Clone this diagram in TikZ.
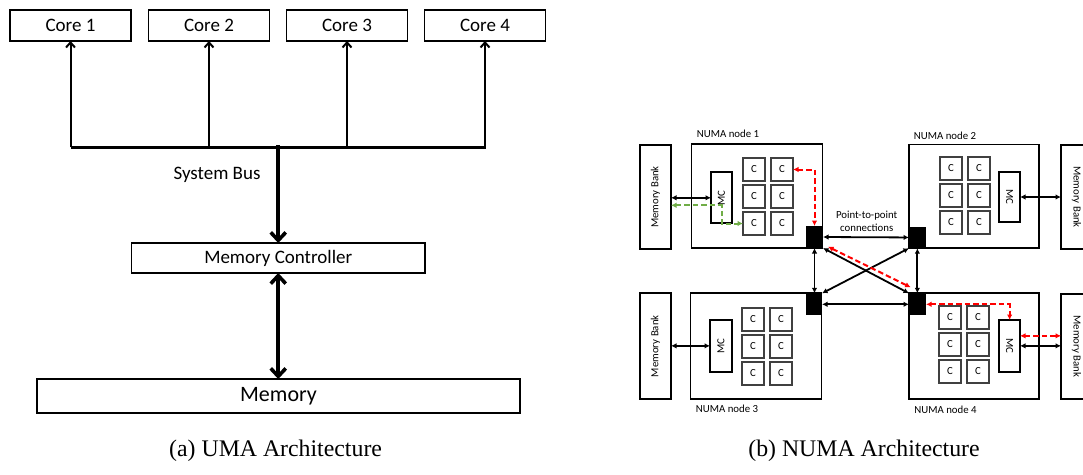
\documentclass[tikz,border=0pt]{standalone}
\usepackage{fontspec}
\setmainfont{Liberation Serif}
\newfontfamily\calib{Carlito}
\usetikzlibrary{arrows.meta,calc}
\definecolor{mygreen}{RGB}{112,173,71}
\begin{document}
\begin{tikzpicture}[x=1pt,y=-1pt,
  ubox/.style={draw, line width=1.8pt, inner sep=0pt, outer sep=0pt, anchor=north west, font=\calib\fontsize{19}{22}\selectfont},
  uthin/.style={line width=2pt, -{Straight Barb[length=5pt,width=9pt]}},
  uthick/.style={line width=3.6pt, -{Straight Barb[length=8pt,width=15pt]}},
  uthickb/.style={line width=3.6pt, {Straight Barb[length=8pt,width=15pt]}-{Straight Barb[length=8pt,width=15pt]}},
  nbox/.style={draw, line width=1.9pt, inner sep=0pt, outer sep=0pt, anchor=north west, font=\calib\fontsize{10.8}{13}\selectfont},
  cbox/.style={draw=black!75, line width=1.4pt, inner sep=0pt, outer sep=0pt, anchor=north west, minimum width=22pt, minimum height=23pt, font=\calib\fontsize{10.8}{13}\selectfont},
  router/.style={fill=black, inner sep=0pt, outer sep=0pt, anchor=north west},
  small/.style={font=\calib\fontsize{10.8}{12.7}\selectfont, inner sep=0pt},
  narr/.style={line width=1.8pt, {Latex[length=5.5pt,width=5.5pt]}-{Latex[length=5.5pt,width=5.5pt]}},
  reddash/.style={narr, draw=red, line width=2pt, dash pattern=on 5.5pt off 3pt},
  greendash/.style={narr, draw=mygreen, line width=2pt, dash pattern=on 5.5pt off 3pt},
  caption/.style={font=\fontsize{23.8}{28}\selectfont, inner sep=0pt}
]
\useasboundingbox (0,0) rectangle (1083,474);
\clip (0,0) rectangle (1083,474);
\fill[white] (0,0) rectangle (1083,474);

% ---------------- UMA ----------------
\node[ubox, minimum width=121pt, minimum height=31pt] (core1) at (10,10) {Core 1};
\node[ubox, minimum width=121pt, minimum height=31pt] (core2) at (148.5,10) {Core 2};
\node[ubox, minimum width=121pt, minimum height=31pt] (core3) at (286.5,10) {Core 3};
\node[ubox, minimum width=121pt, minimum height=31pt] (core4) at (424.5,10) {Core 4};
\coordinate (busL) at (core1.south |- 0,147.4);
\coordinate (busR) at ($(core4.south |- 0,147.4)+(1,0)$);
\draw[line width=3.6pt] (busL) -- (busR);
\foreach \k in {1,2,3,4}{
  \draw[uthin] (core\k.south |- busL) -- (core\k.south);
}
\node[font=\calib\fontsize{19}{22}\selectfont, inner sep=0pt] (sbus) at (217,175) {System Bus};
\node[ubox, minimum width=293.5pt, minimum height=30pt] (umc) at (131.5,243) {Memory Controller};
\node[ubox, minimum width=483pt, minimum height=34pt, font=\calib\fontsize{22}{26}\selectfont] (umem) at (37,379) {Memory};
\coordinate (busC) at ($(umc.north |- busL)+(0,-2)$);
\draw[uthick] (busC) -- (umc.north);
\draw[uthickb] (umc.south) -- (umc.south |- umem.north);
\node[caption] (capa) at (275.6,451) {(a) UMA Architecture};

% ---------------- NUMA ----------------
\node[nbox, minimum width=131pt, minimum height=104pt] (n1) at (691.5,144) {};
\node[nbox, minimum width=130pt, minimum height=103.5pt] (n2) at (909,144.5) {};
\node[nbox, minimum width=131pt, minimum height=105.7pt] (n3) at (690.5,293.3) {};
\node[nbox, minimum width=130pt, minimum height=105.7pt] (n4) at (909,293.3) {};

\node[small] (l1) at (728,134) {NUMA node 1};
\node[small] (l2) at (945,135.5) {NUMA node 2};
\node[small] (l3) at (727,408.5) {NUMA node 3};
\node[small] (l4) at (945.5,410) {NUMA node 4};

\node[nbox, minimum width=31pt, minimum height=104pt] (mb1) at (640,145) {};
\node[small, rotate=90] at (mb1.center) {Memory Bank};
\node[nbox, minimum width=31pt, minimum height=104pt] (mb2) at (1061,145) {};
\node[small, rotate=-90] at (mb2.center) {Memory Bank};
\node[nbox, minimum width=31pt, minimum height=105.7pt] (mb3) at (640,293.3) {};
\node[small, rotate=90] at (mb3.center) {Memory Bank};
\node[nbox, minimum width=31pt, minimum height=105pt] (mb4) at (1061,294) {};
\node[small, rotate=-90] at (mb4.center) {Memory Bank};

\foreach \nx/\ny/\nn in {743/158/1, 940/157/2, 742/308/3, 939/306/4}{
  \foreach \i in {1,2,3}{
    \foreach \j in {1,2}{
      \node[cbox] (n\nn c\i\j) at ({\nx+(\j-1)*28},{\ny+(\i-1)*27}) {C};
    }
  }
}

\node[nbox, minimum width=21pt, minimum height=51pt] (mc1) at (711,172.3) {};
\node[small, rotate=90] at (mc1.center) {MC};
\node[nbox, minimum width=20.7pt, minimum height=50.6pt] (mc2) at (999.3,171.7) {};
\node[small, rotate=-90] at (mc2.center) {MC};
\node[nbox, minimum width=21.7pt, minimum height=51.7pt] (mc3) at (710,320) {};
\node[small, rotate=90] at (mc3.center) {MC};
\node[nbox, minimum width=20.7pt, minimum height=51.7pt] (mc4) at (999.3,320) {};
\node[small, rotate=-90] at (mc4.center) {MC};

\node[router, minimum width=17pt, minimum height=22pt] (r1) at (806,226) {};
\node[router, minimum width=16.7pt, minimum height=21.5pt] (r2) at (909,226.7) {};
\node[router, minimum width=16pt, minimum height=22pt] (r3) at (806,293.3) {};
\node[router, minimum width=17pt, minimum height=22pt] (r4) at (909,293.3) {};

% memory bank links
\draw[narr] (mb1.east |- mc1.west) -- (mc1.west);
\draw[narr] (mc2.east) -- (mc2.east -| mb2.west);
\draw[narr] (mb3.east |- mc3.west) -- (mc3.west);
\draw[narr] (mc4.east) -- (mc4.east -| mb4.west);
\coordinate (rm4) at ($(mc4.east)+(0,-10)$);
\draw[reddash] (rm4) -- (rm4 -| mb4.west);

% green path in node 1
\coordinate (g1) at ($(mc1.center)+(0,7.5)$);
\draw[greendash] (mb1.east |- g1) -- (g1) |- (n1c31.west);

% red paths
\draw[reddash] (n1c12.east) -| (r1.north);
\draw[reddash] (r4.east) -| (mc4.north);

% router links
\draw[narr] (r1.east) -- (r2.west);
\draw[narr] (r1.south) -- (r1.south |- r3.north);
\draw[narr] (r2.south) -- (r2.south |- r4.north);
\draw[narr] (r3.east) -- (r4.west);
\draw[narr] (r1.south east) -- (r4.north west);
\draw[narr] (r2.south west) -- (r3.north east);
\coordinate (rd1) at ($(r1.south east)+(5,-1.3)$);
\coordinate (rd2) at ($(r4.north west)+(1.7,-6)$);
\draw[reddash] (rd1) -- (rd2);

\node[small, align=center] (ptp) at (866.7,221.3) {Point-to-point\\connections};

\node[caption] (capb) at (864,451) {(b) NUMA Architecture};
\end{tikzpicture}
\end{document}
